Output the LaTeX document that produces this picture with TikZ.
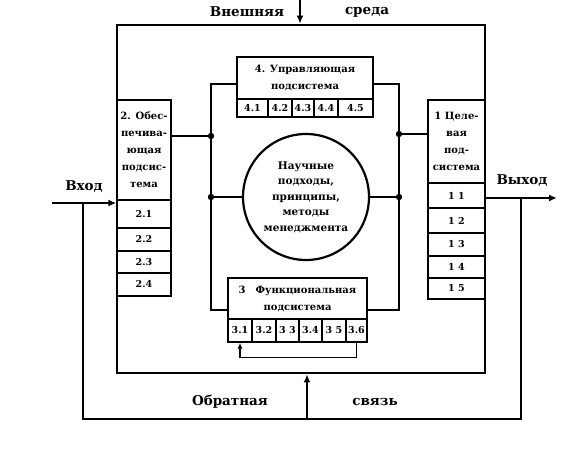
\documentclass[tikz,border=0pt]{standalone}
\usepackage{fontspec}
\setmainfont{DejaVu Serif}
\usetikzlibrary{arrows.meta}

\tikzset{
  hdr/.style={draw, line width=1.3pt, inner sep=1pt, align=center,
    font=\bfseries\fontsize{10}{17}\selectfont},
  cell/.style={draw, line width=1.3pt, inner sep=0pt,
    font=\bfseries\fontsize{9.5}{10}\selectfont},
  lbl/.style={font=\bfseries\fontsize{13.5}{15}\selectfont},
  wire/.style={line width=2.2pt},
  thinwire/.style={line width=1.5pt},
  arr/.style={line width=2.2pt, -{Latex[length=8pt,width=7pt]}},
}

\begin{document}
\begin{tikzpicture}[x=1pt, y=-1pt]
    \useasboundingbox (0,0) rectangle (581,454);

    % System frame
    \node[draw, line width=2.8pt, minimum width=368pt, minimum height=348pt] (sys) at (301,199) {};

    % Outer labels
    \node[lbl] (env1) at (247,12) {Внешняя};
    \node[lbl] (env2) at (367,12) {среда};
    \node[lbl] (inlbl) at (84,187) {Вход};
    \node[lbl] (outlbl) at (522,181) {Выход};
    \node[lbl] (fb1) at (230,402) {Обратная};
    \node[lbl] (fb2) at (375,402) {связь};

    % Subsystem headers
    \node[hdr, minimum width=136pt, minimum height=42pt] (hdrfour) at (305,78) {4. Управляющая\\подсистема};
    \node[hdr, minimum width=139pt, minimum height=41pt] (hdrthree) at (297.5,298.5) {3\quad Функциональная\\подсистема};
    \node[hdr, minimum width=54pt, minimum height=100pt] (hdrtwo) at (144,150) {2. Обес-\\печива-\\ющая\\подсис-\\тема};
    \node[hdr, minimum width=57pt, minimum height=83pt] (hdrone) at (456.5,141.5) {1 Целе-\\вая\\под-\\система};

    % Cells
    \foreach \name/\label/\x/\w in {c41/4.1/252.5/31, c42/4.2/280/24, c43/4.3/303/22, c44/4.4/326/24, c45/4.5/355.5/35}
      \node[cell, minimum width=\w pt, minimum height=18pt] (\name) at (\x,108) {\label};
    \foreach \name/\label/\x/\w in {c31/3.1/240/24, c32/3.2/264/24, c33/3 3/287.5/23, c34/3.4/310.5/23, c35/3 5/334/24, c36/3.6/356.5/21}
      \node[cell, minimum width=\w pt, minimum height=23pt] (\name) at (\x,330.5) {\label};
    \foreach \name/\label/\y/\h in {c21/2.1/214/28, c22/2.2/239.5/23, c23/2.3/262/22, c24/2.4/284.5/23}
      \node[cell, minimum width=54pt, minimum height=\h pt] (\name) at (144,\y) {\label};
    \foreach \name/\label/\y/\h in {c11/1 1/195.5/25, c12/1 2/220.5/25, c13/1 3/244.5/23, c14/1 4/267/22, c15/1 5/288.5/21}
      \node[cell, minimum width=57pt, minimum height=\h pt] (\name) at (456.5,\y) {\label};

    % Core
    \node[draw, circle, line width=2.2pt, minimum size=126pt, inner sep=0pt, align=center,
          font=\bfseries\fontsize{10.5}{15.5}\selectfont] (core) at (306,197)
          {Научные\\подходы,\\принципы,\\методы\\менеджмента};

    % Inner loop
    \coordinate (ltop) at (211,84);
    \coordinate (rtop) at (399,84);
    \coordinate (lbot) at (211,310);
    \coordinate (rbot) at (399,310);
    \draw[wire] (hdrfour.west |- ltop) -- (ltop) -- (lbot) -- (hdrthree.west |- lbot);
    \draw[wire] (hdrfour.east |- rtop) -- (rtop) -- (rbot) -- (hdrthree.east |- rbot);

    % Junctions
    \coordinate (ldota) at (211,136);
    \coordinate (rdota) at (399,134);
    \draw[wire] (hdrtwo.east |- ldota) -- (ldota);
    \draw[wire] (hdrone.west |- rdota) -- (rdota);
    \draw[wire] (core.west) -- (ltop |- core.west);
    \draw[wire] (core.east) -- (rtop |- core.east);
    \foreach \p in {ldota, rdota}
      \fill (\p) circle (3.2pt);
    \fill (ltop |- core.west) circle (3.2pt);
    \fill (rtop |- core.east) circle (3.2pt);

    % Loop under functional subsystem
    \draw[thinwire, -{Latex[length=6pt,width=5pt]}] (c36.south) -- ++(0,15) -| (c31.south);

    % Environment, input, output
    \coordinate (envtop) at (300,0);
    \draw[arr] (envtop) -- (envtop |- sys.north);
    \coordinate (inl) at (52,203);
    \draw[arr] (inl) -- (hdrtwo.west |- inl);
    \coordinate (outr) at (557,198);
    \draw[arr] (sys.east |- outr) -- (outr);

    % Feedback
    \coordinate (fbr) at (521,198);
    \coordinate (fbl) at (83,203);
    \coordinate (fbmid) at (307,419);
    \draw[thinwire] (fbr) -- (fbr |- fbmid) -- (fbl |- fbmid) -- (fbl);
    \draw[arr] (fbmid) -- (fbmid |- sys.south);
\end{tikzpicture}
\end{document}
